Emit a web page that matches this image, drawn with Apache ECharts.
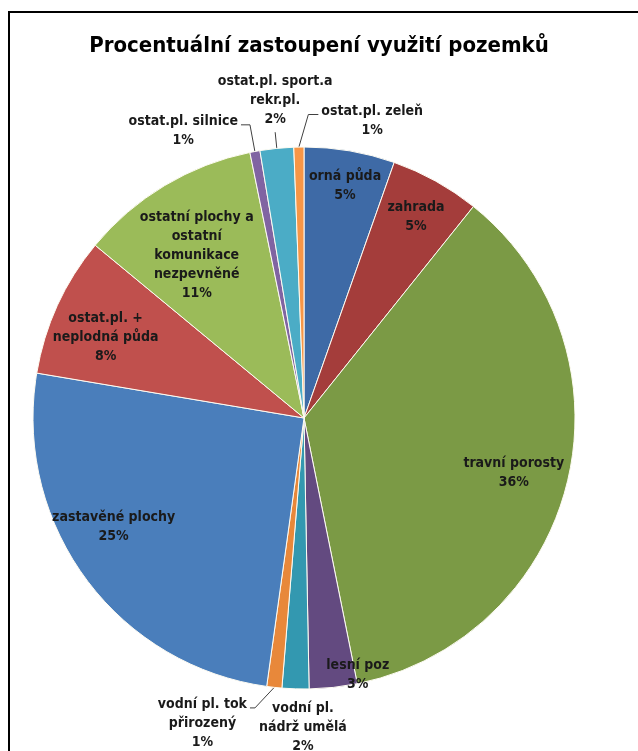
<!DOCTYPE html>
<html lang="cs">
<head>
    <meta charset="UTF-8">
    <title>Procentuální zastoupení využití pozemků</title>
    <script src="https://cdn.jsdelivr.net/npm/echarts@6/dist/echarts.min.js"></script>
    <style>
        html, body { margin: 0; padding: 0; background: #fff; }
        #chart { width: 638px; height: 751px; }
    </style>
</head>
<body>
<div id="chart"></div>
<script>
    // categories (clockwise from 12 o'clock), label text keeps Excel's wrapping
    let categories = [
        "orná půda",
        "zahrada",
        "travní porosty",
        "lesní poz",
        "vodní pl.\nnádrž umělá",
        "vodní pl. tok\npřirozený",
        "zastavěné plochy",
        "ostat.pl. +\nneplodná půda",
        "ostatní plochy a\nostatní\nkomunikace\nnezpevněné",
        "ostat.pl. silnice",
        "ostat.pl. sport.a\nrekr.pl.",
        "ostat.pl. zeleň"
    ];
    // share of area in %
    let values = [5.4, 5.35, 36.1, 2.85, 1.6, 0.9, 25.45, 8.35, 10.8, 0.6, 2.0, 0.6];
    let colors = ["#3e6aa6", "#a43d3b", "#7b9a45", "#634a80", "#3398b0", "#e8883a",
        "#4a7ebb", "#c0504d", "#9bbb59", "#8064a2", "#4bacc6", "#f79646"];

    // label placement: angle nudge from slice middle (deg), distance from centre (x radius)
    let labelNudge = [0.3, 0, 0.9, -5.6, -1.6, 0, 6.4, -2.5, -2.4, 0, 0, 0];
    let labelDist = [0.87, 0.85, 0.80, 0.97, 1.14, 0, 0.81, 0.79, 0.72, 0, 0, 0];
    // leader lines: [radial length, elbow angle nudge, horizontal length, side] (side 0 = label above)
    let leader = [null, null, null, null, null, [0.085, 3.3, 5, -1], null, null, null,
        [0.10, 0, 9, -1], [0.06, 0, 0, 0], [0.12, 1.9, 10, 1]];

    const CX = 304, CY = 418, R = 271;
    const FONT = '"Liberation Sans Narrow", "DejaVu Sans Condensed", "Liberation Sans", sans-serif';

    let total = values.reduce((a, b) => a + b, 0);
    let mids = [];
    let acc = 0;
    values.forEach(v => { mids.push((acc + v / 2) / total * 360); acc += v; });

    function polar(deg, dist) {
        let a = deg * Math.PI / 180;
        return [CX + R * dist * Math.sin(a), CY - R * dist * Math.cos(a)];
    }

    let data = categories.map((name, i) => {
        let outside = leader[i] !== null;
        return {
            name: name,
            value: values[i],
            itemStyle: {color: colors[i]},
            label: {position: outside ? 'outside' : 'inside'},
            labelLine: {show: outside}
        };
    });

    let myChart = echarts.init(document.getElementById('chart'));
    myChart.setOption({
        animation: false,
        title: {
            text: 'Procentuální zastoupení využití pozemků',
            left: 'center',
            top: 30,
            textStyle: {fontFamily: FONT, fontSize: 22, fontWeight: 'bold', color: '#000'}
        },
        graphic: [{
            type: 'rect',
            shape: {x: 9, y: 12, width: 700, height: 800},
            style: {fill: 'none', stroke: '#000', lineWidth: 2}
        }],
        series: [{
            type: 'pie',
            center: [CX, CY],
            radius: R,
            startAngle: 90,
            clockwise: true,
            avoidLabelOverlap: false,
            data: data,
            itemStyle: {borderColor: '#fdfbf2', borderWidth: 1},
            label: {
                show: true,
                formatter: p => p.name + '\n' + Math.round(p.percent) + '%',
                fontFamily: FONT,
                fontSize: 14,
                fontWeight: 'bold',
                lineHeight: 19,
                color: '#1a1a1a',
                align: 'center'
            },
            labelLine: {
                length: 10,
                length2: 5,
                lineStyle: {color: '#404040', width: 1}
            },
            labelLayout: function (params) {
                let i = params.dataIndex;
                let w = params.labelRect.width, h = params.labelRect.height;
                let spec = leader[i];
                if (spec === null) {
                    let p = polar(mids[i] + labelNudge[i], labelDist[i]);
                    return {x: p[0], y: p[1], align: 'center', verticalAlign: 'middle'};
                }
                let p0 = polar(mids[i], 1.0);
                let p1 = polar(mids[i] + spec[1], 1 + spec[0]);
                if (spec[3] === 0) {
                    return {
                        x: p1[0], y: p1[1] - 3 - h / 2,
                        align: 'center', verticalAlign: 'middle',
                        labelLinePoints: [p0, p1]
                    };
                }
                let p2 = [p1[0] + spec[3] * spec[2], p1[1]];
                return {
                    x: p2[0] + spec[3] * (3 + w / 2),
                    y: p2[1] + h / 2 - 13,
                    align: 'center', verticalAlign: 'middle',
                    labelLinePoints: [p0, p1, p2]
                };
            }
        }]
    });
</script>
</body>
</html>
